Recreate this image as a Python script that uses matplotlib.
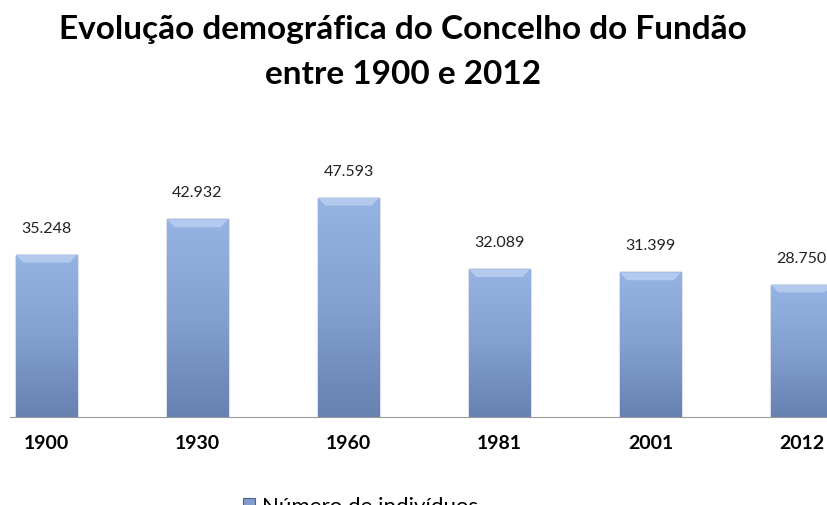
import numpy as np
import matplotlib
matplotlib.use("Agg")
import matplotlib.pyplot as plt
from matplotlib.colors import LinearSegmentedColormap

anos = ["1900", "1930", "1960", "1981", "2001", "2012"]
individuos = [35248, 42932, 47593, 32089, 31399, 28750]
rotulos = ["35.248", "42.932", "47.593", "32.089", "31.399", "28.750"]

plt.rcParams['font.family'] = ['Lato', 'DejaVu Sans']

fig = plt.figure(figsize=(8.27, 5.05), dpi=100)
ax = fig.add_axes([0.012, 0.1743, 0.988, 0.474])

x = np.arange(len(anos))
bars = ax.bar(x, individuos, width=0.404, color="#819dcc", edgecolor="#4a6390", linewidth=1.0, zorder=2)

# gradiente vertical (claro em cima, escuro em baixo)
cmap = LinearSegmentedColormap.from_list("g", ["#95b3e3", "#83a0d0", "#6781b1"])
grad = np.linspace(0, 1, 256).reshape(-1, 1)
for b in bars:
    bx, by = b.get_x(), b.get_y()
    w, h = b.get_width(), b.get_height()
    im = ax.imshow(grad, cmap=cmap, origin="upper", extent=[bx, bx + w, by, by + h],
                   aspect="auto", zorder=3)
    im.set_clip_path(b)
    # chanfro no topo
    d = 1700
    ax.fill([bx, bx + w, bx + w * 0.88, bx + w * 0.12], [h, h, h - d, h - d],
            color="#b3c9ee", linewidth=0, zorder=4)

for xi, v, t in zip(x, individuos, rotulos):
    ax.text(xi, v + 4800, t, ha="center", va="baseline", fontsize=11.5, color="#222222")

ax.set_xlim(-0.242, 5.169)
ax.set_ylim(0, 52000)
ax.set_xticks(x)
ax.set_xticklabels(anos, fontsize=14, fontweight="bold")
ax.tick_params(axis="x", length=0, pad=13)
ax.set_yticks([])
for s in ["top", "right", "left"]:
    ax.spines[s].set_visible(False)
ax.spines["bottom"].set_color("#999999")

fig.text(0.4875, 1 - 39 / 505, "Evolução demográfica do Concelho do Fundão",
         ha="center", va="baseline", fontsize=24, fontweight="bold")
fig.text(0.4875, 1 - 84 / 505, "entre 1900 e 2012",
         ha="center", va="baseline", fontsize=24, fontweight="bold")

fig.patches.append(plt.Rectangle((243 / 827, -0.01), 12 / 827, 0.024, transform=fig.transFigure,
                                 facecolor="#819dcc", edgecolor="#4a6390", linewidth=0.8))
fig.text(262 / 827, 1 - 513 / 505, "Número de indivíduos", ha="left", va="baseline", fontsize=16)

fig.savefig("out.png", dpi=100)
